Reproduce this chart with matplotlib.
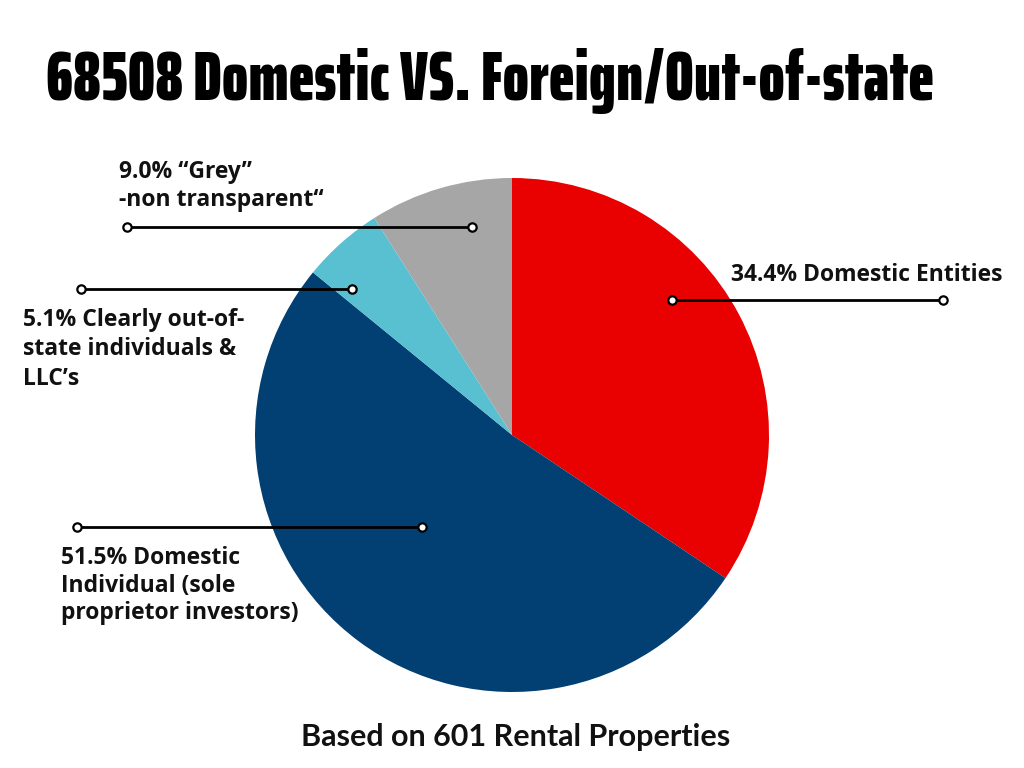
import matplotlib.pyplot as plt
from matplotlib import font_manager
from matplotlib.textpath import TextPath

# data
labels = ['Domestic Entities', 'Domestic Individual', 'Clearly out-of-state', 'Grey']
shares = [34.4, 51.5, 5.1, 9.0]
colors = ['#E90000', '#023F72', '#58C0D1', '#A6A6A6']

title = '68508 Domestic VS. Foreign/Out-of-state'
footer = 'Based on 601 Rental Properties'

H = 768
TITLE_W = 885   # ink width of the title in px
TITLE_CAP = 47  # cap height of the title in px


def weight_num(w):
    if isinstance(w, int):
        return w
    return font_manager.weight_dict.get(w, 400)


# pick a narrow, heavy face for the title whose proportions fit best
narrow = [f for f in font_manager.fontManager.ttflist
          if ('condensed' in str(f.stretch) or 'Narrow' in f.name or 'Condensed' in f.name)
          and f.style == 'normal']
heavy = [f for f in narrow if weight_num(f.weight) >= 800] or \
        [f for f in narrow if weight_num(f.weight) >= 700] or narrow
title_fp = font_manager.FontProperties(family='DejaVu Sans', weight='bold')
best_score = None
for f in heavy:
    fp = font_manager.FontProperties(fname=f.fname)
    try:
        wu = TextPath((0, 0), title, size=100, prop=fp).get_extents().width
        cu = TextPath((0, 0), 'H', size=100, prop=fp).get_extents().height
    except Exception:
        continue
    score = abs(cu * TITLE_W / wu - TITLE_CAP)
    if best_score is None or score < best_score:
        best_score, title_fp = score, fp
wu = TextPath((0, 0), title, size=100, prop=title_fp).get_extents().width
title_size = TITLE_W / wu * 100 * 72 / 100

fig = plt.figure(figsize=(10.24, 7.68), dpi=100)
ax = fig.add_axes([0, 0, 1, 1])

ax.pie(shares, colors=colors, startangle=90, counterclock=False,
       center=(512, H - 435), radius=257, frame=True)
ax.set_xlim(0, 1024)
ax.set_ylim(0, 768)
ax.set_aspect('equal')
ax.axis('off')


def leader(x1, x2, y):
    ax.plot([x1, x2], [H - y, H - y], color='black', lw=2, marker='o',
            mfc='white', mec='black', ms=6, mew=1.6, zorder=5)


leader(127, 472, 227)
leader(81, 352, 289)
leader(672, 943, 300)
leader(77, 422, 527)

kw = dict(fontsize=16.5, fontweight='bold', family='Open Sans', color='#111111',
          ha='left', va='top')
ax.text(119, H - 160, '9.0% \u201cGrey\u201d\n-non transparent\u201c', linespacing=1.25, **kw)
ax.text(23, H - 308, '5.1% Clearly out-of-\nstate individuals &\nLLC\u2019s', linespacing=1.3, **kw)
ax.text(731, H - 263, '34.4% Domestic Entities', **kw)
ax.text(61, H - 546, '51.5% Domestic\nIndividual (sole\nproprietor investors)', linespacing=1.2, **kw)

ax.text(516, H - 746, footer, ha='center', va='baseline',
        fontsize=22, fontweight='bold', family='Lato', color='#111111')

ax.text(490.5, H - 100, title, ha='center', va='baseline',
        fontproperties=title_fp, fontsize=title_size, color='black')

fig.savefig('out.png', dpi=100)
